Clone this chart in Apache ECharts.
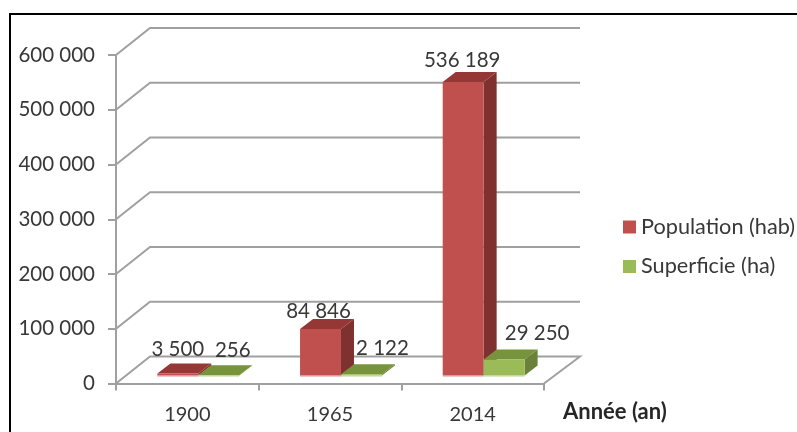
<!DOCTYPE html>
<html><head><meta charset="utf-8">
<style>html,body{margin:0;padding:0;background:#fff}
#frame{position:absolute;left:9px;top:13px;width:788px;height:419px;border-left:2.5px solid #000;border-top:2.5px solid #000;box-sizing:border-box}
#c{position:absolute;left:0;top:0;width:797px;height:432px;filter:blur(0.35px)}</style>
<script src="https://cdn.jsdelivr.net/npm/echarts@6/dist/echarts.min.js"></script>
</head><body><div id="frame"></div><div id="c"></div>
<script>
var categories = ['1900', '1965', '2014'];
var population = [3500, 84846, 536189];
var superficie = [256, 2122, 29250];
var populationLabels = ['3 500', '84 846', '536 189'];
var superficieLabels = ['256', '2 122', '29 250'];
var tickValues = [0, 100000, 200000, 300000, 400000, 500000, 600000];

var WALL_DX = 34, WALL_DY = -27, BAR_DX = 13, BAR_DY = -10, FLOOR_DY = -8;
var GRID = '#a0a0a0', TEXT = '#383838', FONT = 'Lato';
var popNudge = [[0, -24], [-2, -18], [-1, -22]];
var supNudge = [[14, -25], [21, -26], [33, -26]];

function box(api, params, val, from, to, colors, text, nudge) {
  var cat = api.value(0), v = api.value(1);
  var c = api.coord([cat, v]), z = api.coord([cat, 0]);
  var band = api.size([1, 0])[0];
  var x0 = c[0] + from * band, x1 = c[0] + to * band;
  var b = z[1] + FLOOR_DY, t = c[1] + FLOOR_DY;
  var poly = function (pts, col) {
    return { type: 'polygon', shape: { points: pts }, style: { fill: col } };
  };
  return { type: 'group', children: [
    poly([[x1, b], [x1 + BAR_DX, b + BAR_DY], [x1 + BAR_DX, t + BAR_DY], [x1, t]], colors[2]),
    poly([[x0, t], [x1, t], [x1 + BAR_DX, t + BAR_DY], [x0 + BAR_DX, t + BAR_DY]], colors[1]),
    poly([[x0, b], [x1, b], [x1, t], [x0, t]], colors[0]),
    poly([[x0, b], [x1, b], [x1, b + 1], [x0, b + 1]], colors[3]),
    { type: 'text', z2: 50, style: { text: text, x: (x0 + x1) / 2 + nudge[0], y: t + nudge[1],
      align: 'center', verticalAlign: 'middle', fill: TEXT, font: '20.5px ' + FONT } }
  ] };
}

var option = {
  animation: false,
  backgroundColor: 'transparent',
  textStyle: { fontFamily: FONT },
  grid: { left: 116, top: 55, width: 428, height: 328.5 },
  legend: {
    orient: 'vertical', left: 623, top: 216, padding: 0, itemWidth: 13, itemHeight: 13, itemGap: 17.5,
    textStyle: { fontFamily: FONT, fontSize: 21.7, color: TEXT },
    icon: 'rect',
    data: ['Population (hab)', 'Superficie (ha)']
  },
  xAxis: {
    type: 'category', data: categories,
    name: 'Année (an)', nameLocation: 'end', nameGap: 19,
    nameTextStyle: { fontFamily: FONT, fontSize: 22, fontWeight: 'bold', color: '#262626', verticalAlign: 'top', align: 'left', padding: [17, 0, 0, 0] },
    axisLine: { show: true, onZero: false, lineStyle: { color: GRID, width: 2 } },
    axisTick: { show: true, alignWithLabel: false, length: 7, lineStyle: { color: GRID, width: 2 } },
    axisLabel: { fontFamily: FONT, fontSize: 20, color: TEXT, margin: 21 }
  },
  yAxis: {
    type: 'value', min: 0, max: 600000, interval: 100000,
    axisLine: { show: true, lineStyle: { color: GRID, width: 2 } },
    axisTick: { show: true, length: 8, lineStyle: { color: GRID, width: 2 } },
    splitLine: { show: false },
    axisLabel: { fontFamily: FONT, fontSize: 20.5, color: TEXT, margin: 21,
      formatter: function (v) { return v === 0 ? '0' : (v / 1000) + ' 000'; } }
  },
  series: [
    { type: 'custom', name: 'wall', silent: true, z: 1, clip: false,
      data: tickValues.map(function (v) { return [0, v]; }),
      renderItem: function (params, api) {
        var cs = params.coordSys, y = api.coord([0, api.value(1)])[1];
        var L = cs.x, R = cs.x + cs.width;
        var lineStyle = { stroke: GRID, lineWidth: 2, fill: null };
        var pts = [[L, y], [L + WALL_DX, y + WALL_DY], [R + WALL_DX + 2, y + WALL_DY]];
        if (api.value(1) === 0) pts.push([R, y]);
        return { type: 'polyline', shape: { points: pts }, style: lineStyle };
      } },
    { type: 'custom', name: 'Population (hab)', z: 3, clip: false,
      itemStyle: { color: '#C0504D' },
      data: population.map(function (v, i) { return [i, v]; }),
      renderItem: function (params, api) {
        return box(api, params, 0, -0.21, 0.077, ['#C0504D', '#953735', '#7F312F', '#D98F8C'],
          populationLabels[params.dataIndex], popNudge[params.dataIndex]);
      } },
    { type: 'custom', name: 'Superficie (ha)', z: 4, clip: false,
      itemStyle: { color: '#9BBB59' },
      data: superficie.map(function (v, i) { return [i, v]; }),
      renderItem: function (params, api) {
        return box(api, params, 0, 0.077, 0.364, ['#9BBB59', '#77933C', '#6A8139', '#BCD48A'],
          superficieLabels[params.dataIndex], supNudge[params.dataIndex]);
      } }
  ]
};
var chart = echarts.init(document.getElementById('c'), null, { width: 797, height: 432 });
chart.setOption(option);
</script></body></html>
